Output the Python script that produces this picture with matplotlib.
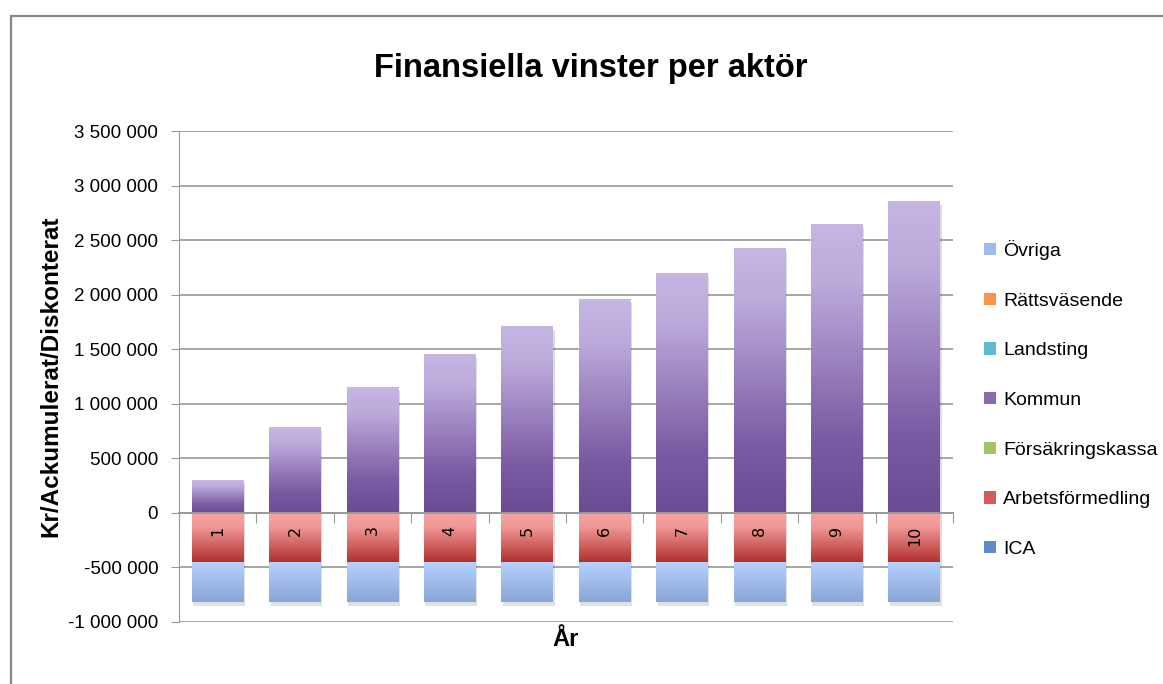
import numpy as np
import matplotlib
matplotlib.use("Agg")
import matplotlib.pyplot as plt
from matplotlib.colors import LinearSegmentedColormap
from matplotlib.patches import Patch, Rectangle
from matplotlib.ticker import FuncFormatter
import matplotlib.patheffects as pe

# data
years = [1, 2, 3, 4, 5, 6, 7, 8, 9, 10]
series = ["ICA", "Arbetsförmedling", "Försäkringskassa", "Kommun",
          "Landsting", "Rättsväsende", "Övriga"]
ica = [0] * 10
arbetsformedling = [-450000] * 10
forsakringskassa = [0] * 10
kommun = [300000, 785000, 1152000, 1455000, 1717000, 1960000, 2200000,
          2426000, 2646000, 2860000]
landsting = [0] * 10
rattsvasende = [0] * 10
ovriga = [-365000] * 10
values = [ica, arbetsformedling, forsakringskassa, kommun, landsting,
          rattsvasende, ovriga]
yticks = [-1000000, -500000, 0, 500000, 1000000, 1500000, 2000000,
          2500000, 3000000, 3500000]

legend_colors = ["#5b8bc9", "#d45b58", "#a3c466", "#8a6cae", "#5cbcd6",
                 "#f7964a", "#9fbbea"]
gradients = {
    "Arbetsförmedling": [(0, "#f6a5a3"), (0.3, "#ef9795"), (1, "#b2302d")],
    "Kommun": [(0, "#c6b6e2"), (0.2, "#bcaadb"), (0.75, "#7a5aa3"), (1, "#6c4b95")],
    "Övriga": [(0, "#b5d1fe"), (1, "#88a6d6")],
}

plt.rcParams["font.family"] = ["Liberation Sans", "DejaVu Sans"]

W, H = 1163, 684
fig = plt.figure(figsize=(W / 100, H / 100), dpi=100)
ax = fig.add_axes([179 / W, 62 / H, 774 / W, 491 / H])

# chart frame
fig.patches.append(Rectangle((11 / W, -0.1), 1.2, 1.1 - 16 / H, transform=fig.transFigure,
                             fill=False, edgecolor="#868686", linewidth=1.6))

x = np.array(years)
pos_bottom = np.zeros(10)
neg_bottom = np.zeros(10)
width = 0.67
for name, vals in zip(series, values):
    vals = np.array(vals, dtype=float)
    bottom = np.where(vals >= 0, pos_bottom, neg_bottom)
    if np.any(vals != 0):
        bars = ax.bar(x, vals, width, bottom=bottom, color=gradients[name][-1][1],
                      linewidth=0, zorder=2)
        cmap = LinearSegmentedColormap.from_list(name, gradients[name])
        grad = np.linspace(0, 1, 256).reshape(-1, 1)
        for b in bars:
            b.set_path_effects([pe.SimplePatchShadow(offset=(1, -3), alpha=0.15), pe.Normal()])
            x0, y0 = b.get_x(), b.get_y()
            x1, y1 = x0 + b.get_width(), y0 + b.get_height()
            img = ax.imshow(grad, cmap=cmap, aspect="auto", origin="upper",
                            extent=[x0, x1, min(y0, y1), max(y0, y1)], zorder=2.1)
            img.set_clip_path(b)
    pos_bottom = pos_bottom + np.where(vals > 0, vals, 0)
    neg_bottom = neg_bottom + np.where(vals < 0, vals, 0)

ax.set_xlim(0.5, 10.5)
ax.set_ylim(-1000000, 3500000)
ax.set_yticks(yticks)
ax.yaxis.set_major_formatter(FuncFormatter(lambda v, p: f"{v:,.0f}".replace(",", " ")))
ax.grid(axis="y", color="#a6a6a6", linewidth=1.4)
ax.set_axisbelow(True)
ax.xaxis.set_zorder(5)

ax.spines["top"].set_visible(False)
ax.spines["right"].set_visible(False)
ax.spines["left"].set_color("#9a9a9a")
ax.spines["bottom"].set_color("#9a9a9a")
ax.spines["bottom"].set_position(("data", 0))
ax.spines["bottom"].set_linewidth(1.4)

ax.set_xticks(np.arange(0.5, 11, 1.0))
ax.set_xticklabels([])
ax.set_xticks(x, [str(y) for y in years], minor=True)
ax.tick_params(axis="x", which="major", length=7, color="#9a9a9a", direction="out")
ax.tick_params(axis="x", which="minor", length=0, pad=9, labelrotation=90,
               labelsize=11.5, labelfontfamily="DejaVu Sans")
ax.tick_params(axis="y", length=6, color="#9a9a9a", pad=9, labelsize=13.5)

ax.set_ylabel("Kr/Ackumulerat/Diskonterat", fontsize=17.5, fontweight="bold")
ax.yaxis.set_label_coords(-0.151, 0.5)
ax.set_xlabel("År", fontsize=17, fontweight="bold")
ax.xaxis.set_label_coords(0.5, -0.012)

fig.text(591 / W, 1 - 68 / H, "Finansiella vinster per aktör", fontsize=23.5,
         fontweight="bold", ha="center", va="center")

handles = [Patch(facecolor=c, edgecolor="none") for c in legend_colors]
fig.legend(handles[::-1], series[::-1], loc="upper left",
           bbox_to_anchor=(984 / W, 1 - 240 / H), frameon=False, fontsize=14,
           handlelength=0.6, handleheight=0.6, handletextpad=0.4,
           labelspacing=1.68, borderpad=0, borderaxespad=0)

fig.savefig("out.png", dpi=100)
